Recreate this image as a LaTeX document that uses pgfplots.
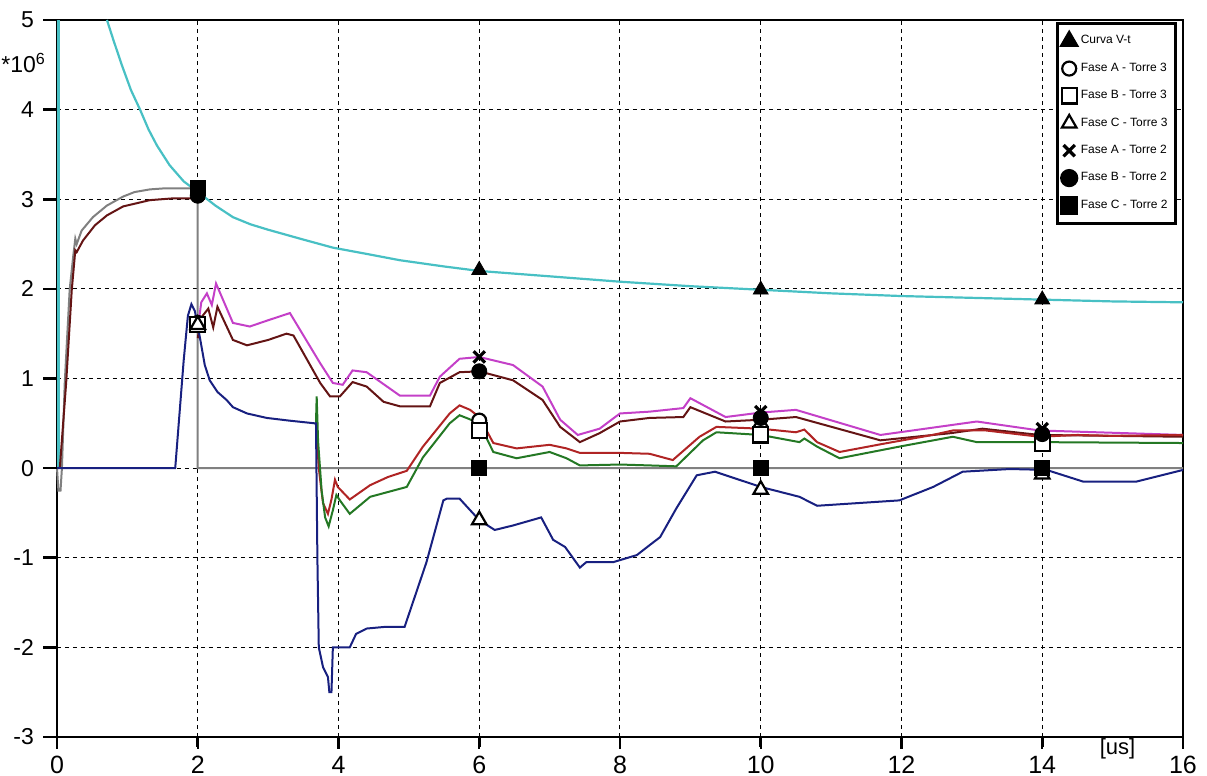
\documentclass[border=0pt]{standalone}
\usepackage{fontspec}
\setmainfont{Liberation Sans}
\usepackage{pgfplots}
\pgfplotsset{compat=1.18}
\definecolor{cCyan}{RGB}{72,192,196}
\definecolor{cNavy}{RGB}{24,32,128}
\definecolor{cBrown}{RGB}{100,20,20}
\definecolor{cMag}{RGB}{196,64,200}
\definecolor{cRed}{RGB}{176,36,36}
\definecolor{cGreen}{RGB}{36,120,36}
\definecolor{cGrey}{RGB}{128,128,128}
\begin{document}
\begin{tikzpicture}
\begin{axis}[
  at={(0pt,0pt)}, anchor=south west,
  scale only axis, width=563pt, height=358.5pt,
  clip=false,
  xmin=0, xmax=16, ymin=-3, ymax=5,
  xtick={0,2,...,16}, xticklabels={0,2,4,6,8,10,12,14,16},
  ytick={-3,-2,...,5}, yticklabels={-3,-2,-1,0,1,2,3,4,5},
  tick align=outside, xtick pos=left, ytick pos=left,
  tickwidth=6pt,
  every major tick/.append style={black, line width=1.2pt},
  axis line style={line width=1.3pt},
  grid=major,
  major grid style={black, line width=0.5pt, dash pattern=on 2pt off 2pt},
  xticklabel style={font=\fontsize{12.5}{14}\selectfont},
  yticklabel style={font=\fontsize{11.5}{13}\selectfont, xshift=-2pt},
  legend image code/.code={\draw[mark repeat=2,mark phase=2,#1] plot coordinates {(0cm,0cm)(0.22cm,0cm)(0.44cm,0cm)};},
  legend style={at={(rel axis cs:1,1)}, anchor=north east, xshift=-3pt, yshift=-1pt,
    draw=black, line width=1.5pt, fill=white,
    font=\fontsize{6}{7}\selectfont, row sep=4pt, inner xsep=2pt, inner ysep=4pt},
  legend cell align=left,
]
% lines
\addplot[cCyan, line width=1.1pt, forget plot] coordinates {(0.02,0)(0.02,5)};
\addplot[cCyan, line width=1.1pt, forget plot] coordinates {
(0.71,5.0)(0.8,4.78)(0.92,4.5)(1.05,4.22)(1.18,4.0)(1.3,3.78)(1.42,3.6)(1.6,3.38)(1.8,3.2)(2.02,3.07)(2.25,2.93)(2.5,2.8)(2.75,2.72)(3.0,2.66)(3.5,2.55)(3.92,2.46)(4.4,2.39)(4.87,2.32)(5.5,2.25)(6,2.2)(7,2.14)(8,2.08)(9,2.03)(10,1.99)(11,1.95)(12,1.92)(13,1.9)(14,1.88)(15,1.86)(16,1.85)};
\addplot[cGrey, line width=1pt, forget plot] coordinates {
(0,0)(0.02,-0.25)(0.05,-0.25)(0.07,0)(0.11,0.95)(0.18,1.99)(0.23,2.36)(0.26,2.56)(0.28,2.5)(0.35,2.65)(0.51,2.8)(0.71,2.93)(0.94,3.03)(1.1,3.08)(1.32,3.11)(1.5,3.12)(2.0,3.12)(2.0,0)(16,0)};
\addplot[cBrown, line width=1pt, forget plot] coordinates {
(0.04,0)(0.13,0.95)(0.21,1.99)(0.26,2.43)(0.28,2.41)(0.37,2.54)(0.54,2.71)(0.71,2.82)(0.94,2.92)(1.32,2.99)(1.65,3.01)(2.0,3.01)};
\addplot[cMag, line width=1pt, forget plot] coordinates {
(2.0,1.55)(2.05,1.85)(2.13,1.95)(2.2,1.82)(2.26,2.06)(2.5,1.62)(2.74,1.58)(3.0,1.65)(3.31,1.73)(3.74,1.17)(3.92,0.95)(4.06,0.93)(4.2,1.09)(4.4,1.07)(4.87,0.81)(5.3,0.81)(5.44,1.02)(5.72,1.22)(6.0,1.24)(6.48,1.15)(6.9,0.91)(7.15,0.54)(7.4,0.37)(7.71,0.44)(8.0,0.61)(8.42,0.63)(8.9,0.67)(9.0,0.78)(9.5,0.57)(10,0.62)(10.5,0.65)(11.7,0.37)(13.07,0.52)(13.96,0.42)(16,0.37)};
\addplot[cBrown, line width=1pt, forget plot] coordinates {
(2.0,1.45)(2.05,1.68)(2.15,1.78)(2.22,1.57)(2.28,1.80)(2.5,1.43)(2.7,1.37)(3.0,1.43)(3.26,1.50)(3.36,1.48)(3.74,0.95)(3.88,0.80)(4.02,0.80)(4.2,0.96)(4.4,0.91)(4.64,0.74)(4.87,0.69)(5.3,0.69)(5.44,0.95)(5.72,1.07)(6.0,1.08)(6.48,0.98)(6.9,0.76)(7.15,0.46)(7.43,0.29)(7.71,0.39)(8.0,0.52)(8.42,0.56)(8.9,0.57)(9.0,0.68)(9.5,0.52)(10,0.54)(10.5,0.57)(11.7,0.31)(12.7,0.39)(13.15,0.44)(13.96,0.37)(16,0.35)};
\addplot[cRed, line width=1pt, forget plot] coordinates {
(3.68,0.5)(3.72,0.0)(3.75,-0.2)(3.78,-0.39)(3.85,-0.51)(3.9,-0.35)(3.95,-0.13)(3.99,-0.21)(4.16,-0.35)(4.45,-0.19)(4.7,-0.1)(4.97,-0.03)(5.2,0.24)(5.58,0.61)(5.72,0.70)(5.87,0.65)(6.0,0.57)(6.2,0.28)(6.53,0.22)(7.0,0.26)(7.24,0.22)(7.43,0.17)(8.0,0.17)(8.42,0.16)(8.75,0.09)(9.13,0.35)(9.37,0.46)(10,0.44)(10.5,0.40)(10.62,0.43)(10.8,0.29)(11.12,0.18)(11.73,0.27)(12.44,0.37)(12.73,0.42)(13.2,0.42)(13.96,0.35)(14.5,0.37)(15,0.36)(16,0.37)};
\addplot[cGreen, line width=1pt, forget plot] coordinates {
(3.68,0.5)(3.69,0.8)(3.71,0.3)(3.76,-0.25)(3.81,-0.55)(3.86,-0.65)(3.92,-0.47)(3.97,-0.3)(4.02,-0.36)(4.16,-0.51)(4.45,-0.32)(4.97,-0.21)(5.2,0.12)(5.58,0.50)(5.72,0.59)(5.85,0.55)(6.0,0.5)(6.2,0.18)(6.53,0.11)(7.0,0.18)(7.24,0.11)(7.43,0.03)(8.0,0.04)(8.42,0.03)(8.8,0.02)(9.18,0.31)(9.37,0.4)(10,0.37)(10.55,0.29)(10.62,0.33)(10.8,0.24)(11.12,0.11)(11.97,0.24)(12.73,0.35)(13.07,0.29)(13.96,0.29)(16,0.28)};
\addplot[cNavy, line width=1pt, forget plot] coordinates {
(0,0)(1.68,0)(1.8,1.2)(1.86,1.7)(1.91,1.83)(1.96,1.75)(2.03,1.46)(2.1,1.15)(2.17,0.98)(2.28,0.85)(2.41,0.76)(2.5,0.68)(2.7,0.61)(2.98,0.56)(3.3,0.53)(3.66,0.50)(3.68,0.5)(3.7,-1.0)(3.72,-2.0)(3.78,-2.22)(3.85,-2.33)(3.87,-2.5)(3.9,-2.5)(3.92,-2.0)(4.0,-2.0)(4.16,-2.0)(4.25,-1.85)(4.4,-1.79)(4.68,-1.77)(4.94,-1.77)(5.25,-1.05)(5.49,-0.36)(5.54,-0.34)(5.72,-0.34)(6.0,-0.58)(6.22,-0.69)(6.48,-0.64)(6.88,-0.55)(7.05,-0.8)(7.22,-0.88)(7.43,-1.11)(7.52,-1.05)(7.9,-1.05)(8.24,-0.97)(8.42,-0.86)(8.57,-0.77)(8.8,-0.45)(9.09,-0.08)(9.35,-0.04)(10.0,-0.21)(10.55,-0.32)(10.8,-0.42)(11.97,-0.36)(12.45,-0.21)(12.87,-0.04)(13.54,-0.01)(14.06,-0.02)(14.58,-0.15)(15.34,-0.15)(16,-0.02)};
% markers
\addplot[only marks, mark=triangle*, mark size=4.3pt, black] coordinates {(6,2.21)(10,1.99)(14,1.88)};
\addlegendentry{Curva V-t}
\addplot[only marks, mark=*, mark size=3.5pt, black, mark options={fill=white, line width=1.1pt}] coordinates {(2,1.62)(6,0.53)(10,0.44)(14,0.36)};
\addlegendentry{Fase A - Torre 3}
\addplot[only marks, mark=square*, mark size=3.8pt, black, mark options={fill=white, line width=1.1pt}] coordinates {(2,1.6)(6,0.42)(10,0.37)(14,0.28)};
\addlegendentry{Fase B - Torre 3}
\addplot[only marks, mark=triangle*, mark size=4.2pt, black, mark options={fill=white, line width=1.1pt}] coordinates {(2,1.6)(6,-0.58)(10,-0.24)(14,-0.07)};
\addlegendentry{Fase C - Torre 3}
\addplot[only marks, mark=x, mark size=4pt, black, mark options={line width=1.6pt}] coordinates {(6,1.24)(10,0.63)(14,0.44)};
\addlegendentry{Fase A - Torre 2}
\addplot[only marks, mark=*, mark size=3.8pt, black] coordinates {(2,3.04)(6,1.08)(10,0.56)(14,0.38)};
\addlegendentry{Fase B - Torre 2}
\addplot[only marks, mark=square*, mark size=3.8pt, black] coordinates {(2,3.13)(6,0)(10,0)(14,0)};
\addlegendentry{Fase C - Torre 2}
\node[anchor=east, font=\fontsize{11.5}{13}\selectfont, xshift=-2pt] at (axis cs:0,4.52) {*10\textsuperscript{6}};
\node[anchor=center, font=\fontsize{11}{13}\selectfont, yshift=-6pt] at (axis cs:15.07,-3) {[us]};
\end{axis}
% outside tick marks, drawn after the axis in canvas coordinates (axis box is 563pt x 358.5pt at the origin)
\foreach \i in {0,...,8} {
  \draw[black, line width=1.3pt] (0pt,{\i*44.8125pt}) -- ++(-7pt,0pt);
  \draw[black, line width=1.3pt] ({\i*70.375pt},0pt) -- ++(0pt,-5pt);
}
\pgfresetboundingbox
\path (-28.5pt,-19.5pt) rectangle (575pt,368.5pt);
\end{tikzpicture}
\end{document}
